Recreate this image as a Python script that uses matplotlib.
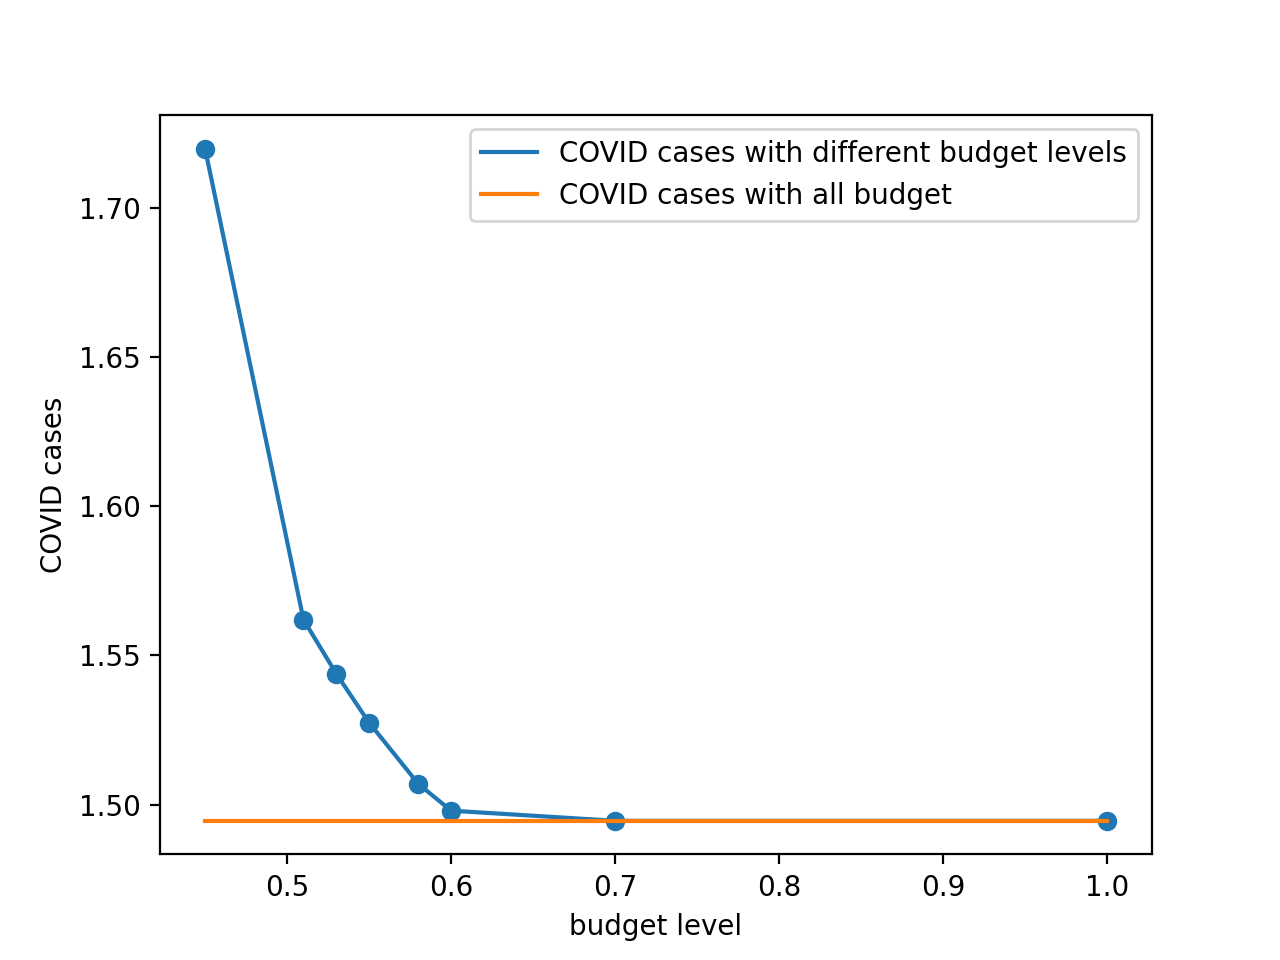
import matplotlib
matplotlib.use("Agg")
import matplotlib.pyplot as plt

budget = [0.45, 0.51, 0.53, 0.55, 0.58, 0.60, 0.70, 1.0]
cases = [1.7198, 1.5620, 1.5439, 1.5275, 1.5070, 1.4980, 1.4946, 1.4946]
all_budget_cases = 1.4946

fig, ax = plt.subplots(figsize=(6.4, 4.8), dpi=200)
ax.plot(budget, cases, label="COVID cases with different budget levels")
ax.plot([budget[0], budget[-1]], [all_budget_cases, all_budget_cases],
        label="COVID cases with all budget")
ax.scatter(budget, cases)
ax.set_xlabel("budget level")
ax.set_ylabel("COVID cases")
ax.legend()
fig.savefig("out.png", dpi=200)
